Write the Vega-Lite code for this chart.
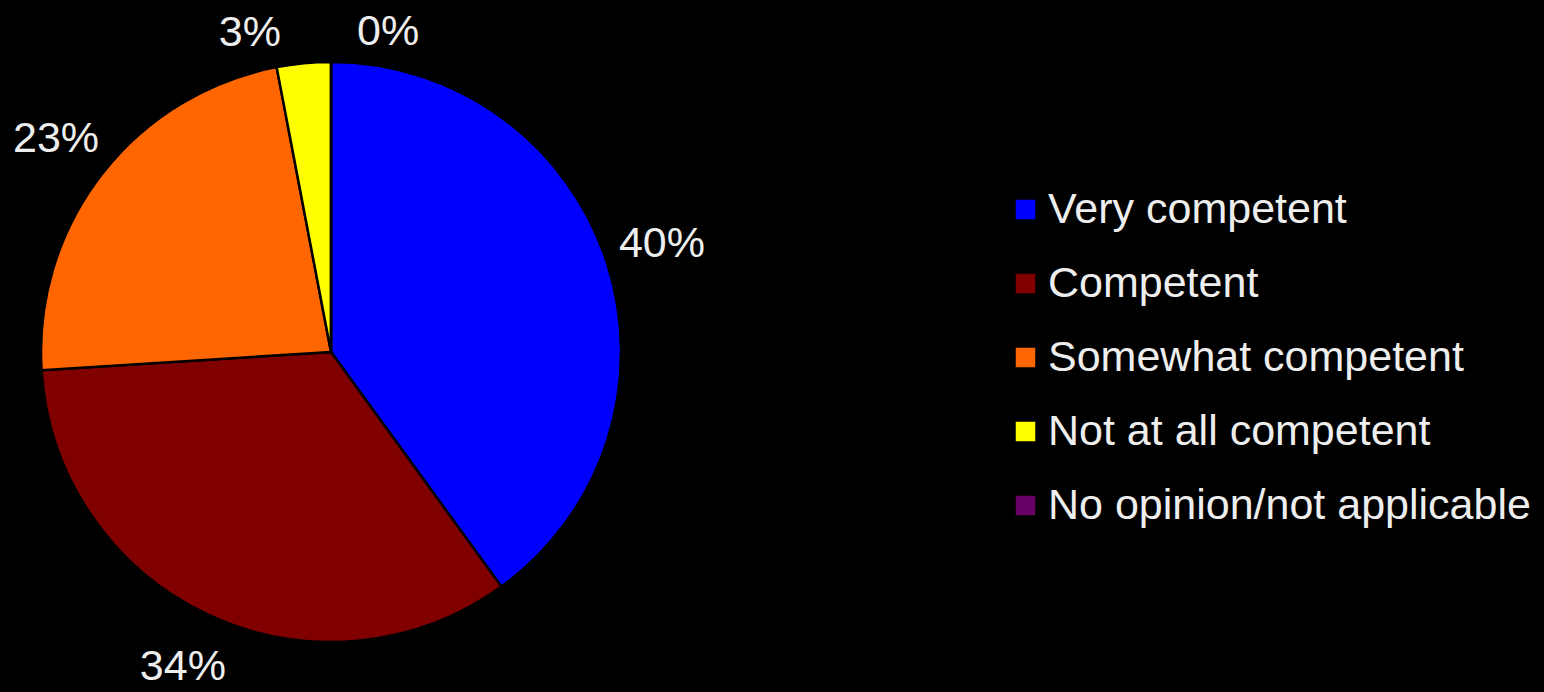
{
  "$schema": "https://vega.github.io/schema/vega-lite/v6.json",
  "autosize": {"type": "none"},
  "width": 662,
  "height": 680,
  "padding": {"left": 0, "top": 12, "right": 882, "bottom": 0},
  "background": "#000000",
  "config": {
    "view": {"stroke": null},
    "font": "Liberation Sans",
    "text": {"font": "Liberation Sans"}
  },
  "data": {
    "values": [
      {"category": "Very competent", "pct": 0.40, "idx": 1},
      {"category": "Competent", "pct": 0.34, "idx": 2},
      {"category": "Somewhat competent", "pct": 0.23, "idx": 3},
      {"category": "Not at all competent", "pct": 0.03, "idx": 4},
      {"category": "No opinion/not applicable", "pct": 0.0, "idx": 5}
    ]
  },
  "encoding": {
    "theta": {"field": "pct", "type": "quantitative", "stack": true},
    "order": {"field": "idx", "type": "quantitative", "sort": "ascending"}
  },
  "layer": [
    {
      "mark": {"type": "arc", "radius": 290, "stroke": "#000000", "strokeWidth": 2.5},
      "encoding": {
        "color": {
          "field": "category",
          "type": "nominal",
          "scale": {
            "domain": ["Very competent", "Competent", "Somewhat competent", "Not at all competent", "No opinion/not applicable"],
            "range": ["#0000FF", "#800000", "#FF6600", "#FFFF00", "#660066"]
          },
          "legend": {
            "title": null,
            "orient": "none",
            "legendX": 1004,
            "legendY": 176,
            "padding": 0,
            "symbolType": "square",
            "symbolSize": 380,
            "symbolStrokeWidth": 0,
            "labelFontSize": 43,
            "labelFont": "Liberation Sans",
            "labelColor": "#eeeeee",
            "labelOffset": 1,
            "rowPadding": 30,
            "labelLimit": 600
          }
        }
      }
    },
    {
      "mark": {"type": "text", "radius": 348, "fontSize": 43, "color": "#eeeeee", "align": "center", "baseline": "middle"},
      "encoding": {
        "text": {"condition": {"test": "datum.pct >= 0.05", "field": "pct", "type": "quantitative", "format": ".0%"}, "value": ""}
      }
    },
    {
      "mark": {"type": "text", "radius": 320, "fontSize": 43, "color": "#eeeeee", "align": "right", "baseline": "middle", "dx": -20},
      "encoding": {
        "text": {"condition": {"test": "datum.category === 'Not at all competent'", "field": "pct", "type": "quantitative", "format": ".0%"}, "value": ""}
      }
    },
    {
      "mark": {"type": "text", "radius": 320, "fontSize": 43, "color": "#eeeeee", "align": "left", "baseline": "middle", "dx": 26},
      "encoding": {
        "text": {"condition": {"test": "datum.category === 'No opinion/not applicable'", "field": "pct", "type": "quantitative", "format": ".0%"}, "value": ""}
      }
    }
  ]
}
